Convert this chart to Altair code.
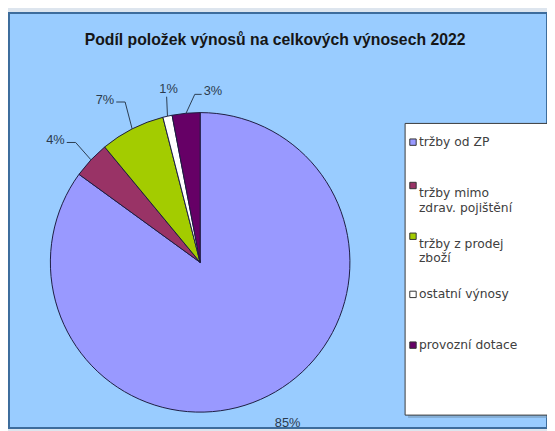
import math
import altair as alt
import pandas as pd

# ---------------- data ----------------
title_text = "Podíl položek výnosů na celkových výnosech 2022"
categories = ["tržby od ZP", "tržby mimo zdrav. pojištění", "tržby z prodej zboží",
              "ostatní výnosy", "provozní dotace"]
legend_text = ["tržby od ZP", "tržby mimo|zdrav. pojištění", "tržby z prodej|zboží",
               "ostatní výnosy", "provozní dotace"]
shares = [85, 4, 7, 1, 3]
pct_text = ["85%", "4%", "7%", "1%", "3%"]
colors = ["#9999ff", "#993366", "#a3cc00", "#ffffff", "#660066"]

# ---------------- layout (styling) ----------------
CX, CY, R = 194, 253, 152
# label placement: angle nudge (deg), label radius (px), leader attach side
label_cfg = {
    "tržby od ZP": (-1.5, 186, None),
    "tržby mimo zdrav. pojištění": (-3.1, 192, "right"),
    "tržby z prodej zboží": (-3.4, 191, "right"),
    "ostatní výnosy": (2.3, 179, "bottom"),
    "provozní dotace": (9.7, 174, "left"),
}
HW = 9.5  # half width of a short percent label

total = sum(shares)
rows, lab_rows, lead_rows = [], [], []
cum = 0.0
for i, (c, s, p, lt) in enumerate(zip(categories, shares, pct_text, legend_text)):
    mid = (cum + s / 2) / total * 360.0
    cum += s
    da, lr, side = label_cfg[c]
    a = math.radians(mid + da)
    lx, ly = CX + lr * math.sin(a), CY - lr * math.cos(a)
    lab_rows.append({"cat": c, "pct": p, "tx": lx, "ty": ly})
    m = math.radians(mid)
    ex, ey = CX + R * math.sin(m), CY - R * math.cos(m)
    pts = []
    if side == "right":
        pts = [(lx + HW + 2, ly + 2), (lx + HW + 11, ly + 2), (ex, ey)]
    elif side == "left":
        pts = [(lx - HW - 2, ly + 3), (lx - HW - 9, ly + 3), (ex, ey)]
    elif side == "bottom":
        pts = [(lx - 2, ly + 8), (ex, ey)]
    for k, (px, py) in enumerate(pts):
        lead_rows.append({"cat": c, "pt": k, "lx": px, "ly": py})
    rows.append({"cat": c, "share": s, "idx": i, "leg": lt})

df = pd.DataFrame(rows)
labels_df = pd.DataFrame(lab_rows)
lead_df = pd.DataFrame(lead_rows)
one = pd.DataFrame({"t": [title_text]})

color_scale = alt.Scale(domain=categories, range=colors)

legend_shadow = alt.Chart(one).mark_rect(fill="#6f8fae", opacity=0.5).encode(
    x=alt.value(405), x2=alt.value(600), y=alt.value(115), y2=alt.value(411)
)
legend_box = alt.Chart(one).mark_rect(fill="#ffffff", stroke="#3a3a3a", strokeWidth=1).encode(
    x=alt.value(402), x2=alt.value(600), y=alt.value(112), y2=alt.value(408)
)

pie = alt.Chart(df).mark_arc(stroke="#1c1c40", strokeWidth=1).encode(
    theta=alt.Theta("share:Q", stack=True),
    order=alt.Order("idx:Q"),
    color=alt.Color("cat:N", scale=color_scale, legend=None),
    x=alt.value(CX), y=alt.value(CY), radius=alt.value(R),
)

leaders = alt.Chart(lead_df).mark_line(color="#2b3b4e", strokeWidth=1).encode(
    x=alt.X("lx:Q", scale=None), y=alt.Y("ly:Q", scale=None),
    detail="cat:N", order="pt:Q",
)

labels = alt.Chart(labels_df).mark_text(
    font="Liberation Sans", fontSize=13, color="#2b3b4e", baseline="middle", align="center"
).encode(
    x=alt.X("tx:Q", scale=None), y=alt.Y("ty:Q", scale=None), text="pct:N"
)

title = alt.Chart(one).mark_text(
    font="Liberation Sans", fontSize=16, fontWeight="bold", color="#161616"
).encode(x=alt.value(270), y=alt.value(27), text="t:N")

leg_y = alt.Scale(domain=[0, 4], range=[131, 337])
leg_sym = alt.Chart(df).transform_calculate(
    sym_pos="datum.idx - (length(split(datum.leg, '|')) - 1) * 7.5 / 51.5"
).mark_square(size=42, stroke="#333333", strokeWidth=1, opacity=1).encode(
    x=alt.value(410), y=alt.Y("sym_pos:Q", scale=leg_y, axis=None),
    color=alt.Color("cat:N", scale=color_scale, legend=None),
)
leg_txt = alt.Chart(df).mark_text(
    font="DejaVu Sans", fontSize=12.5, color="#404040", align="left",
    baseline="middle", lineBreak="|", lineHeight=15
).encode(
    x=alt.value(416), y=alt.Y("idx:Q", scale=leg_y, axis=None), text="leg:N"
)

chart = alt.layer(
    legend_shadow, legend_box, pie, leaders, labels, title, leg_sym, leg_txt
).resolve_scale(x="independent", y="independent").properties(
    width=546, height=421,
    padding={"left": 1, "top": 2, "right": 0, "bottom": 0},
    autosize=alt.AutoSizeParams(type="none"),
    background="#dde5ee",
).configure_view(fill="#99ccff", stroke="#3d6c9c", strokeWidth=2)

chart.save("out.html", embed_options={"renderer": "svg", "actions": False})
